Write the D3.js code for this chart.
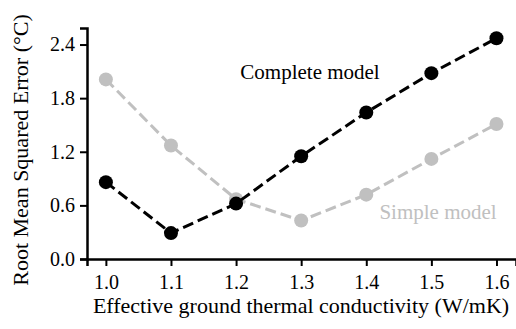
<!DOCTYPE html>
<html>
<head>
<meta charset="utf-8">
<script src="https://cdn.jsdelivr.net/npm/d3@7"></script>
<style>
  body { margin: 0; background: #fff; }
</style>
</head>
<body>
<svg id="chart"></svg>
<script>
const conductivity = [1.0, 1.1, 1.2, 1.3, 1.4, 1.5, 1.6];
const completeModel = [0.86, 0.29, 0.62, 1.15, 1.64, 2.08, 2.47];
const simpleModel = [2.01, 1.27, 0.67, 0.43, 0.72, 1.12, 1.51];
const yTicks = [0.0, 0.6, 1.2, 1.8, 2.4];

const width = 516, height = 329;
const margin = { top: 28, right: 0, bottom: 70, left: 87 };
const serif = "'Times New Roman', serif";

const svg = d3.select("#chart")
  .attr("width", width)
  .attr("height", height)
  .style("font-family", serif);

const x = d3.scaleLinear()
  .domain([0.971, 1.63])
  .range([margin.left, width - margin.right]);
const y = d3.scaleLinear()
  .domain([0, 2.585])
  .range([height - margin.bottom, margin.top]);

// axes
const xAxis = svg.append("g")
  .attr("transform", `translate(0,${height - margin.bottom})`)
  .call(d3.axisBottom(x).tickValues(conductivity).tickFormat(d3.format(".1f")).tickSizeOuter(0).tickSize(7).tickPadding(9));
const yAxis = svg.append("g")
  .attr("transform", `translate(${margin.left},0)`)
  .call(d3.axisLeft(y).tickValues(yTicks).tickFormat(d3.format(".1f")).tickSizeOuter(0).tickSize(7).tickPadding(5));

[xAxis, yAxis].forEach(a => {
  a.attr("font-family", null).attr("font-size", null);
  a.select(".domain").attr("stroke", "#000").attr("stroke-width", 2.5);
  a.selectAll(".tick line").attr("stroke", "#000").attr("stroke-width", 2);
  a.selectAll(".tick text")
    .attr("fill", "#000")
    .style("font-family", serif)
    .style("font-size", "20px");
});

svg.append("text")
  .attr("x", 301)
  .attr("y", 313)
  .attr("text-anchor", "middle")
  .style("font-family", serif)
  .style("font-size", "22px")
  .text("Effective ground thermal conductivity (W/mK)");

svg.append("text")
  .attr("transform", `translate(28,150) rotate(-90)`)
  .attr("text-anchor", "middle")
  .style("font-family", serif)
  .style("font-size", "22px")
  .text("Root Mean Squared Error (°C)");

const line = d3.line().x((d, i) => x(conductivity[i])).y(d => y(d));

const series = [
  { values: simpleModel, color: "#c0c0c0" },
  { values: completeModel, color: "#000" }
];

series.forEach(s => {
  svg.append("path")
    .datum(s.values)
    .attr("fill", "none")
    .attr("stroke", s.color)
    .attr("stroke-width", 3)
    .attr("stroke-dasharray", "11,5")
    .attr("d", line);
  svg.append("g").selectAll("circle")
    .data(s.values)
    .join("circle")
    .attr("cx", (d, i) => x(conductivity[i]))
    .attr("cy", d => y(d))
    .attr("r", 7)
    .attr("fill", s.color);
});

svg.append("text")
  .attr("x", 310).attr("y", 79)
  .attr("text-anchor", "middle")
  .style("font-family", serif)
  .style("font-size", "21px")
  .attr("fill", "#000")
  .text("Complete model");

svg.append("text")
  .attr("x", 438).attr("y", 219)
  .attr("text-anchor", "middle")
  .style("font-family", serif)
  .style("font-size", "21px")
  .attr("fill", "#c0c0c0")
  .text("Simple model");
</script>
</body>
</html>
